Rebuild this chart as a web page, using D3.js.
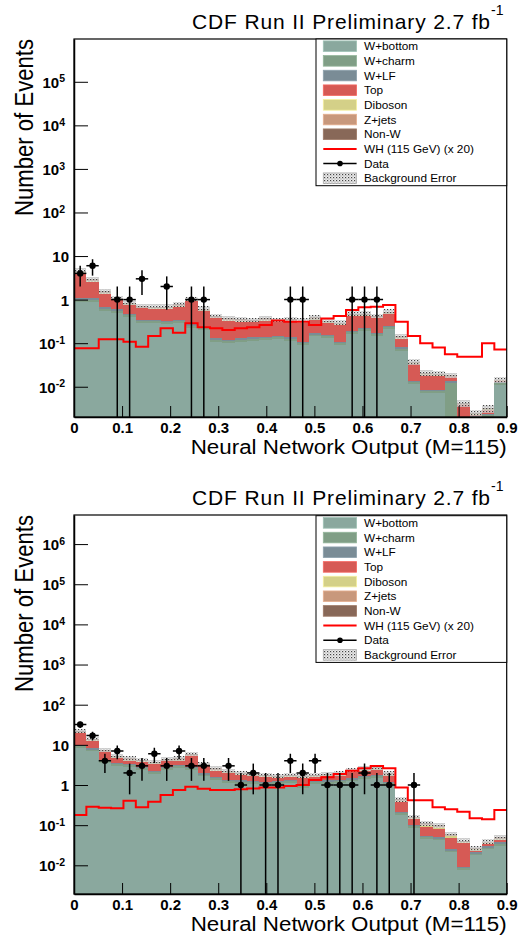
<!DOCTYPE html>
<html>
<head>
<meta charset="utf-8">
<script src="https://cdn.jsdelivr.net/npm/d3@7"></script>
<style>
  body { margin: 0; background: #fff; }
  svg { display: block; }
  text { font-family: "Liberation Sans", Arial, Helvetica, sans-serif; fill: #000; }
</style>
</head>
<body>
<svg id="chart" width="519" height="943"></svg>
<script>
// Neural network output binning: 35 equal bins from 0 to 0.9
const nBins = 35;
const xLow = 0;
const xHigh = 0.9;

const layerNames = ["W+bottom", "W+charm", "W+LF", "Top", "Diboson", "Z+jets", "Non-W"];
const layerColors = ["#8aa89e", "#809e86", "#7a8c96", "#d65a55", "#d4d088", "#c8987c", "#886858"];
const legendLabels = ["W+bottom", "W+charm", "W+LF", "Top", "Diboson", "Z+jets", "Non-W",
                      "WH (115 GeV) (x 20)", "Data", "Background Error"];

// ---- upper plot: expected events per bin ----
const upperWbottom = [0.90,0.90,0.56,0.50,0.39,0.29,0.285,0.277,0.29,0.227,0.20,0.109,0.10,0.109,0.115,0.118,0.126,0.115,0.09,0.143,0.129,0.091,0.16,0.19,0.146,0.21,0.067,0.0116,0.0071,0.0071,0.001,0.0003,0.0019,0.002,0.011];
const upperWcharm = [0.096,0.096,0.06,0.054,0.042,0.032,0.031,0.03,0.032,0.024,0.022,0.012,0.011,0.012,0.012,0.013,0.014,0.012,0.01,0.015,0.014,0.01,0.017,0.02,0.016,0.023,0.007,0.0012,0.0008,0.0008,0.0115,0,0.0001,0.0002,0.0012];
const upperWlf = [0.075,0.075,0.047,0.042,0.033,0.025,0.024,0.023,0.025,0.019,0.017,0.009,0.008,0.009,0.01,0.01,0.01,0.01,0.007,0.012,0.011,0.007,0.013,0.016,0.012,0.017,0.006,0.001,0.0005,0.0005,0.001,0,0.0001,0.0002,0.0009];
const upperTop = [2.98,1.48,0.71,0.37,0.28,0.28,0.27,0.28,0.345,0.65,0.31,0.24,0.206,0.178,0.162,0.186,0.149,0.171,0.183,0.173,0.136,0.152,0.232,0.196,0.196,0.216,0.048,0.0193,0.0101,0.0092,0.0029,0.0035,0.0002,0.0006,0.0005];
const upperDiboson = [0.18,0.12,0.063,0.044,0.034,0.029,0.028,0.028,0.032,0.042,0.025,0.017,0.015,0.014,0.014,0.015,0.014,0.014,0.013,0.016,0.013,0.012,0.019,0.019,0.017,0.021,0.006,0.0015,0.0008,0.0008,0.0007,0.0001,0.0001,0.00005,0.0003];
const upperZjets = [0.14,0.09,0.047,0.033,0.026,0.022,0.021,0.021,0.024,0.032,0.019,0.013,0.011,0.011,0.01,0.011,0.01,0.011,0.01,0.012,0.01,0.009,0.014,0.014,0.013,0.016,0.004,0.0011,0.0006,0.0006,0.0006,0.0001,0,0.00005,0.0002];
const upperNonW = [0.23,0.15,0.079,0.055,0.043,0.036,0.035,0.035,0.04,0.053,0.032,0.021,0.019,0.018,0.017,0.019,0.017,0.018,0.017,0.02,0.017,0.015,0.024,0.024,0.021,0.027,0.007,0.0019,0.0011,0.001,0.0009,0.0002,0.0001,0.0001,0.0002];
const upperWH = [0.076,0.076,0.123,0.123,0.108,0.083,0.146,0.219,0.174,0.285,0.231,0.219,0.20,0.219,0.231,0.26,0.33,0.31,0.31,0.26,0.37,0.42,0.58,0.665,0.69,0.75,0.31,0.146,0.10,0.08,0.056,0.049,0.049,0.10,0.072];
const upperData = [4,6,0,1,1,3,0,2,0,1,1,0,0,0,0,0,0,1,1,0,0,0,1,1,1,0,0,0,0,0,0,0,0,0,0];
const upperRelErr = [0.18,0.14,0.12,0.12,0.12,0.12,0.12,0.12,0.12,0.12,0.12,0.12,0.12,0.12,0.12,0.12,0.12,0.12,0.12,0.12,0.12,0.12,0.12,0.12,0.12,0.12,0.13,0.14,0.14,0.14,0.14,0.2,0.2,0.2,0.14];

// ---- lower plot: expected events per bin ----
const lowerWbottom = [8.4,6.9,3.53,3.02,2.8,2.4,1.91,2.4,2.65,2.4,1.64,1.35,1.12,1.09,1.08,1.02,1.05,1.15,0.84,1.09,1.09,1.12,1.23,1.41,1.49,1.02,0.181,0.084,0.045,0.042,0.021,0.0078,0.0176,0.025,0.031];
const lowerWcharm = [0.9,0.74,0.38,0.32,0.3,0.26,0.2,0.26,0.28,0.26,0.18,0.15,0.12,0.12,0.11,0.11,0.11,0.12,0.09,0.12,0.12,0.12,0.13,0.15,0.16,0.11,0.02,0.009,0.005,0.0045,0.0023,0.0008,0.0019,0.0027,0.0033];
const lowerWlf = [0.7,0.57,0.29,0.25,0.23,0.2,0.16,0.2,0.22,0.2,0.13,0.11,0.09,0.09,0.09,0.08,0.09,0.1,0.07,0.09,0.09,0.09,0.11,0.12,0.12,0.08,0.015,0.007,0.004,0.0035,0.0017,0.0007,0.0015,0.0023,0.0027];
const lowerTop = [9.36,4.12,2.31,1.15,0.72,0.84,1.07,1.01,0.9,2.33,0.98,0.68,0.67,0.48,0.37,0.35,0.23,0.21,0.48,0.26,0.35,0.39,0.61,0.61,0.63,0.51,0.171,0.039,0.038,0.029,0.022,0.0257,0.0018,0.003,0.005];
const lowerDiboson = [0.88,0.56,0.3,0.22,0.18,0.17,0.15,0.18,0.18,0.24,0.13,0.1,0.09,0.08,0.075,0.07,0.067,0.072,0.067,0.07,0.075,0.078,0.094,0.1,0.11,0.078,0.018,0.012,0.01,0.012,0.008,0.003,0.002,0.003,0.003];
const lowerZjets = [0.66,0.42,0.22,0.16,0.14,0.13,0.11,0.13,0.14,0.18,0.1,0.08,0.07,0.06,0.056,0.053,0.05,0.054,0.05,0.053,0.056,0.059,0.071,0.08,0.08,0.059,0.013,0.005,0.004,0.004,0.002,0.001,0.0007,0.001,0.002];
const lowerNonW = [1.1,0.7,0.37,0.27,0.23,0.21,0.19,0.22,0.23,0.3,0.17,0.13,0.11,0.1,0.094,0.089,0.084,0.09,0.084,0.089,0.094,0.098,0.118,0.13,0.14,0.098,0.022,0.007,0.005,0.005,0.003,0.002,0.001,0.002,0.003];
const lowerWH = [0.179,0.288,0.272,0.263,0.407,0.28,0.385,0.564,0.75,0.91,0.81,0.75,0.75,0.78,0.82,0.87,0.87,0.95,1.0,1.33,1.55,1.88,2.27,2.6,2.97,2.6,0.87,0.42,0.42,0.28,0.25,0.216,0.148,0.14,0.24];
const lowerData = [32,17,4,7,2,3,6,3,7,3,3,0,3,1,2,1,1,4,2,4,1,1,1,2,1,1,0,1,0,0,0,0,0,0,0];
const lowerRelErr = [0.12,0.12,0.12,0.12,0.12,0.12,0.12,0.12,0.12,0.12,0.12,0.12,0.12,0.12,0.12,0.12,0.12,0.12,0.12,0.12,0.12,0.12,0.12,0.12,0.12,0.12,0.12,0.13,0.13,0.13,0.13,0.14,0.14,0.13,0.13];

const panels = [
  { id: "upper", x0: 74, x1: 506.7, y0: 39, y1: 417, yDomain: [0.00202, 9.6e5], expMin: -2, expMax: 5,
    layers: [upperWbottom, upperWcharm, upperWlf, upperTop, upperDiboson, upperZjets, upperNonW],
    signal: upperWH, data: upperData, relErr: upperRelErr,
    titleBase: 29.3, xTitleBase: 454, legendTop: 39 },
  { id: "lower", x0: 74, x1: 506.7, y0: 515, y1: 894, yDomain: [0.00193, 5.3e6], expMin: -2, expMax: 6,
    layers: [lowerWbottom, lowerWcharm, lowerWlf, lowerTop, lowerDiboson, lowerZjets, lowerNonW],
    signal: lowerWH, data: lowerData, relErr: lowerRelErr,
    titleBase: 505, xTitleBase: 930.5, legendTop: 515.7 }
];

const svg = d3.select("#chart");
const defs = svg.append("defs");

// dotted fill used for the background uncertainty band
const hatch = defs.append("pattern").attr("id", "bgErr")
  .attr("patternUnits", "userSpaceOnUse").attr("width", 3).attr("height", 3);
hatch.append("rect").attr("width", 3).attr("height", 3).attr("fill", "#e4e4e4").attr("fill-opacity", 0.7);
hatch.append("rect").attr("width", 1.2).attr("height", 1.2).attr("fill", "#444");
hatch.append("rect").attr("x", 1.5).attr("y", 1.5).attr("width", 1).attr("height", 1).attr("fill", "#8a8a8a");

const edges = d3.range(nBins + 1).map(i => xLow + (xHigh - xLow) * i / nBins);

function drawPanel(p) {
  const x = d3.scaleLinear().domain([xLow, xHigh]).range([p.x0, p.x1]);
  const y = d3.scaleLog().domain(p.yDomain).range([p.y1, p.y0]);
  const ypx = v => (v > 0 ? Math.min(p.y1 + 2, y(v)) : p.y1 + 2);

  defs.append("clipPath").attr("id", "clip-" + p.id)
    .append("rect").attr("x", p.x0).attr("y", p.y0)
    .attr("width", p.x1 - p.x0).attr("height", p.y1 - p.y0);

  const plot = svg.append("g").attr("clip-path", `url(#clip-${p.id})`);

  // stacked backgrounds
  const rows = d3.range(nBins).map(i => {
    const r = { bin: i };
    layerNames.forEach((k, j) => { r[k] = p.layers[j][i]; });
    return r;
  });
  const stacked = d3.stack().keys(layerNames)(rows);
  stacked.forEach((layer, j) => {
    plot.append("g").attr("shape-rendering", "crispEdges")
      .selectAll("rect").data(layer).join("rect")
      .attr("x", (d, i) => x(edges[i]))
      .attr("width", (d, i) => x(edges[i + 1]) - x(edges[i]))
      .attr("y", d => ypx(d[1]))
      .attr("height", d => Math.max(0, ypx(d[0]) - ypx(d[1])))
      .attr("fill", layerColors[j]);
  });

  // background uncertainty band
  const totals = rows.map(r => d3.sum(layerNames, k => r[k]));
  plot.append("g").attr("shape-rendering", "crispEdges")
    .selectAll("rect").data(totals).join("rect")
    .attr("x", (d, i) => x(edges[i]))
    .attr("width", (d, i) => x(edges[i + 1]) - x(edges[i]))
    .attr("y", (d, i) => ypx(d * (1 + p.relErr[i])))
    .attr("height", (d, i) => Math.max(0, ypx(d * (1 - p.relErr[i])) - ypx(d * (1 + p.relErr[i]))))
    .attr("fill", "url(#bgErr)");

  // WH signal x 20 as a step outline
  const stepPts = edges.map((e, i) => [x(e), y(p.signal[Math.min(i, nBins - 1)])]);
  plot.append("path")
    .attr("d", d3.line().curve(d3.curveStepAfter)(stepPts))
    .attr("fill", "none").attr("stroke", "#ff0000").attr("stroke-width", 2);

  // data points with Poisson errors
  const pts = p.data.map((n, i) => ({ n, i })).filter(d => d.n > 0);
  const dg = plot.append("g");
  dg.selectAll("line.h").data(pts).join("line").attr("class", "h")
    .attr("x1", d => x(edges[d.i])).attr("x2", d => x(edges[d.i + 1]))
    .attr("y1", d => y(d.n)).attr("y2", d => y(d.n))
    .attr("stroke", "#000").attr("stroke-width", 1.5);
  dg.selectAll("line.v").data(pts).join("line").attr("class", "v")
    .attr("x1", d => x((edges[d.i] + edges[d.i + 1]) / 2))
    .attr("x2", d => x((edges[d.i] + edges[d.i + 1]) / 2))
    .attr("y1", d => y(d.n + Math.sqrt(d.n)))
    .attr("y2", d => ypx(d.n - Math.sqrt(d.n)))
    .attr("stroke", "#000").attr("stroke-width", 1.5);
  dg.selectAll("circle").data(pts).join("circle")
    .attr("cx", d => x((edges[d.i] + edges[d.i + 1]) / 2))
    .attr("cy", d => y(d.n)).attr("r", 3.2).attr("fill", "#000");

  // x axis
  const xMajor = d3.range(0, 9.5).map(k => k / 10);
  const xMinor = d3.range(0, 45.5).map(k => k / 50).filter(v => Math.abs(v * 10 - Math.round(v * 10)) > 1e-6);
  const xg = svg.append("g").attr("transform", `translate(0,${p.y1})`);
  xg.call(d3.axisBottom(x).tickValues(xMinor).tickSize(-5.5).tickSizeOuter(0).tickFormat(""));
  xg.call(d3.axisBottom(x).tickValues(xMajor).tickSize(-11).tickSizeOuter(0).tickFormat(d3.format(".1~f")));
  xg.selectAll("text").attr("y", 15.5).attr("dy", 0)
    .style("font-size", "15px").style("font-weight", "bold").style("font-family", '"Liberation Sans", Arial, sans-serif');
  xg.selectAll("line").attr("stroke", "#000");
  xg.select(".domain").attr("stroke", "#000").attr("stroke-width", 1.5);

  // y axis (log)
  const exps = d3.range(p.expMin, p.expMax + 1);
  const yMajor = exps.map(e => Math.pow(10, e));
  const yMinor = [];
  d3.range(p.expMin - 1, p.expMax + 1).forEach(e => {
    d3.range(2, 10).forEach(m => {
      const v = m * Math.pow(10, e);
      if (v >= p.yDomain[0] && v <= p.yDomain[1]) yMinor.push(v);
    });
  });
  const yg = svg.append("g").attr("transform", `translate(${p.x0},0)`);
  yg.call(d3.axisLeft(y).tickValues(yMinor).tickSize(-7).tickSizeOuter(0).tickFormat(""));
  yg.call(d3.axisLeft(y).tickValues(yMajor).tickSize(-14).tickSizeOuter(0).tickFormat(""));
  yg.selectAll("line").attr("stroke", "#000");
  yg.select(".domain").attr("stroke", "#000").attr("stroke-width", 1.5);
  yg.selectAll(".tick text").filter(d => yMajor.includes(d))
    .attr("dy", "0.36em")
    .style("font-size", "15px").style("font-weight", "bold")
    .each(function (d) {
      const e = Math.round(Math.log10(d));
      const t = d3.select(this);
      if (e === 0) { t.attr("x", -5).text("1"); return; }
      if (e === 1) { t.attr("x", -5).text("10"); return; }
      t.attr("x", -9);
      t.append("tspan").text("10");
      t.append("tspan").attr("dy", "-0.5em").style("font-size", "10.5px").text(String(e));
    });

  // frame
  svg.append("rect").attr("x", p.x0).attr("y", p.y0)
    .attr("width", p.x1 - p.x0).attr("height", p.y1 - p.y0)
    .attr("fill", "none").attr("stroke", "#000").attr("stroke-width", 1.2);

  // legend
  const lg = svg.append("g");
  const lx = 316, lw = p.x1 - 316, lh = 146.7;
  lg.append("rect").attr("x", lx).attr("y", p.legendTop).attr("width", lw).attr("height", lh)
    .attr("fill", "#fff").attr("stroke", "#000").attr("stroke-width", 1);
  legendLabels.forEach((label, i) => {
    const cy = p.legendTop + 7.2 + i * 14.67;
    if (i < layerNames.length) {
      lg.append("rect").attr("x", 323.3).attr("y", cy - 5.3).attr("width", 33.3).attr("height", 10.6)
        .attr("fill", layerColors[i]).attr("stroke", d3.color(layerColors[i]).brighter(0.4)).attr("stroke-width", 0.8);
    } else if (label.startsWith("WH")) {
      lg.append("line").attr("x1", 323.3).attr("x2", 356.6).attr("y1", cy).attr("y2", cy)
        .attr("stroke", "#ff0000").attr("stroke-width", 2);
    } else if (label === "Data") {
      lg.append("line").attr("x1", 323.3).attr("x2", 356.6).attr("y1", cy).attr("y2", cy)
        .attr("stroke", "#000").attr("stroke-width", 1.5);
      lg.append("circle").attr("cx", 340).attr("cy", cy).attr("r", 2.8).attr("fill", "#000");
    } else {
      lg.append("rect").attr("x", 323.3).attr("y", cy - 5.3).attr("width", 33.3).attr("height", 10.6)
        .attr("fill", "url(#bgErr)").attr("stroke", "#aaa").attr("stroke-width", 0.8);
    }
    lg.append("text").attr("x", 364).attr("y", cy + 4.1).style("font-size", "11.8px").text(label);
  });

  // titles
  svg.append("text").attr("x", 192).attr("y", p.titleBase)
    .attr("textLength", 298).attr("lengthAdjust", "spacing")
    .style("font-size", "21px").text("CDF Run II Preliminary 2.7 fb");
  svg.append("text").attr("x", 491).attr("y", p.titleBase - 14)
    .style("font-size", "14px").text("-1");

  svg.append("text").attr("x", 190.7).attr("y", p.xTitleBase)
    .attr("textLength", 316).attr("lengthAdjust", "spacingAndGlyphs")
    .style("font-size", "20px").text("Neural Network Output (M=115)");

  svg.append("text").attr("transform", `translate(33.3,${p.y0}) rotate(-90)`)
    .attr("text-anchor", "end")
    .attr("textLength", 177).attr("lengthAdjust", "spacingAndGlyphs")
    .style("font-size", "25px").text("Number of Events");
}

panels.forEach(drawPanel);
</script>
</body>
</html>
